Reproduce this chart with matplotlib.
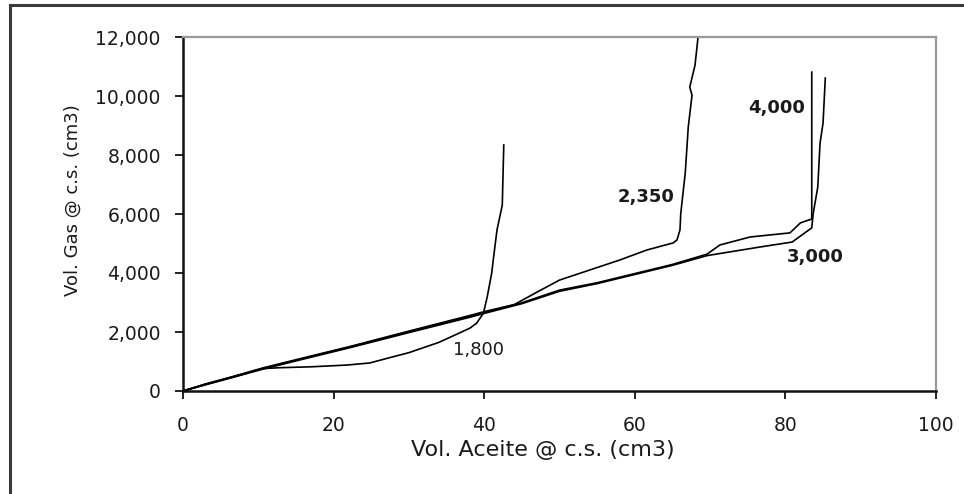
import matplotlib
matplotlib.use("Agg")
import matplotlib.pyplot as plt
from matplotlib.lines import Line2D

plt.rcParams['font.family'] = ['DejaVu Sans']

# Cumulative produced volumes at standard conditions, one curve per test pressure
oil_1800 = [0, 3, 6.6, 10.6, 12.9, 17, 21.8, 24.8, 27, 30, 34, 38.1, 39, 39.9, 40.4, 41, 41.2, 41.7, 42.4, 42.6]
gas_1800 = [0, 230, 475, 760, 790, 820, 880, 950, 1100, 1300, 1650, 2130, 2300, 2640, 3190, 4000, 4440, 5460, 6300, 8340]

oil_2350 = [0, 3, 6.6, 10.6, 15, 22.2, 30, 38.1, 40, 44, 47, 50, 54, 58, 61.6, 65.1, 65.6, 66, 66.1, 66.3, 66.7, 67.1, 67.6, 67.3, 68, 68.4]
gas_2350 = [0, 240, 490, 780, 1060, 1510, 2030, 2560, 2690, 2930, 3350, 3760, 4100, 4440, 4780, 5020, 5120, 5460, 6000, 6475, 7390, 8950, 10030, 10300, 11050, 12000]

oil_3000 = [0, 3, 6.6, 10.6, 15, 22.2, 30, 38.1, 40, 45, 50, 55, 60, 65, 69.6, 76.6, 80.9, 83.5, 83.7, 84.3, 84.6, 85, 85.3]
gas_3000 = [0, 210, 460, 740, 1020, 1470, 1980, 2500, 2630, 2960, 3380, 3640, 3950, 4260, 4590, 4880, 5050, 5530, 6030, 6915, 8400, 9085, 10610]

oil_4000 = [0, 3, 6.6, 10.6, 15, 22.2, 30, 38.1, 40, 45, 50, 55, 60, 65, 69.6, 71.3, 75.3, 80.6, 82, 83.5, 83.5]
gas_4000 = [0, 225, 470, 770, 1045, 1495, 2010, 2540, 2660, 2990, 3420, 3670, 3980, 4290, 4640, 4950, 5220, 5360, 5700, 5830, 10810]

curve_labels = ["1,800", "2,350", "3,000", "4,000"]
label_x = [39.2, 61.5, 83.9, 78.9]
label_y = [1390, 6580, 4540, 9600]

x_ticks = [0, 20, 40, 60, 80, 100]
y_ticks = [0, 2000, 4000, 6000, 8000, 10000, 12000]

fig = plt.figure(figsize=(9.64, 4.94), dpi=100)
fig.patch.set_facecolor("white")

# outer frame around the chart (runs off the right and bottom edges)
fx = 10 / 964
fy = 1 - 5 / 494
fig.add_artist(Line2D([fx, 1.0], [fy, fy], transform=fig.transFigure, color="#3a3a3a", lw=2.2))
fig.add_artist(Line2D([fx, fx], [fy, 0.0], transform=fig.transFigure, color="#3a3a3a", lw=2.2))

ax = fig.add_axes([183 / 964, 1 - 391 / 494, 753 / 964, 354 / 494])

for xs, ys in [(oil_1800, gas_1800), (oil_2350, gas_2350), (oil_3000, gas_3000), (oil_4000, gas_4000)]:
    ax.plot(xs, ys, color="black", lw=1.2, solid_joinstyle="miter")

weights = ["normal", "bold", "bold", "bold"]
for txt, lx, ly, w in zip(curve_labels, label_x, label_y, weights):
    ax.text(lx, ly, txt, ha="center", va="center", fontsize=13, fontweight=w, color="#1a1a1a")

ax.set_xlim(0, 100)
ax.set_ylim(0, 12000)
ax.set_xticks(x_ticks)
ax.set_yticks(y_ticks)
ax.set_xticklabels([str(v) for v in x_ticks])
ax.set_yticklabels([f"{v:,}" for v in y_ticks])

ax.tick_params(axis="both", direction="out", length=6, width=1.4, color="#222222",
               labelsize=13.5, labelcolor="#1a1a1a")
ax.tick_params(axis="y", pad=10)
ax.tick_params(axis="x", pad=12)

for side in ["left", "bottom"]:
    ax.spines[side].set_color("#111111")
    ax.spines[side].set_linewidth(1.8)
for side in ["top", "right"]:
    ax.spines[side].set_color("#999999")
    ax.spines[side].set_linewidth(1.6)

ax.set_xlabel("Vol. Aceite @ c.s. (cm3)", fontsize=16, color="#1a1a1a")
ax.xaxis.set_label_coords(0.478, -0.138)
ax.set_ylabel("Vol. Gas @ c.s. (cm3)", fontsize=13, color="#1a1a1a")
ax.yaxis.set_label_coords(-0.134, 0.54)

fig.savefig("out.png", dpi=100, facecolor="white")
